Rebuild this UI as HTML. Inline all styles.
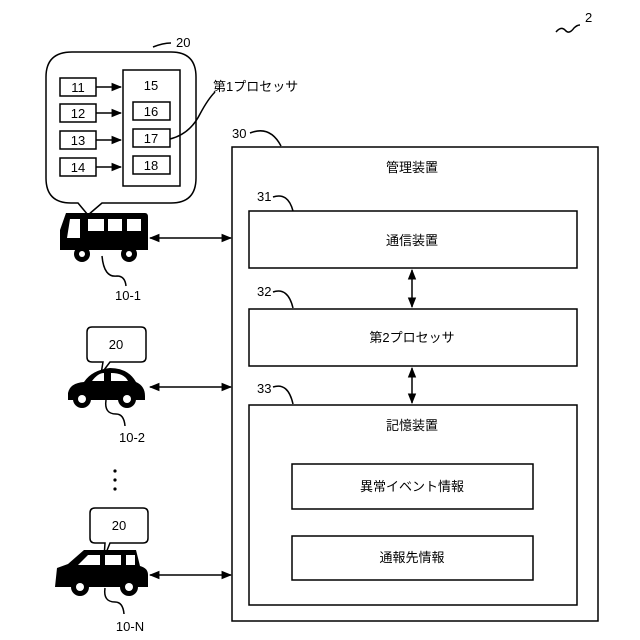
<!DOCTYPE html>
<html><head><meta charset="utf-8"><style>
body{margin:0;background:#fff}
svg{display:block}
text{font-family:"Liberation Sans","Noto Sans CJK JP",sans-serif;font-size:13px;fill:#000}
</style></head><body>
<svg width="640" height="640" viewBox="0 0 640 640">
<defs><marker id="a" viewBox="0 0 10 10" refX="9" refY="5" markerWidth="7" markerHeight="7" orient="auto-start-reverse"><path d="M0,1 L10,5 L0,9 z"/></marker></defs>
<g fill="none" stroke="#000" stroke-width="1.5">
<rect x="232" y="147" width="366" height="474"/>
<rect x="249" y="211" width="328" height="57"/>
<rect x="249" y="309" width="328" height="57"/>
<rect x="249" y="405" width="328" height="200"/>
<rect x="292" y="464" width="241" height="45"/>
<rect x="292" y="536" width="241" height="44"/>
<path d="M412,270 V307" marker-start="url(#a)" marker-end="url(#a)"/>
<path d="M412,368 V403" marker-start="url(#a)" marker-end="url(#a)"/>
<path d="M150,238 H231" marker-start="url(#a)" marker-end="url(#a)"/>
<path d="M150,387 H231" marker-start="url(#a)" marker-end="url(#a)"/>
<path d="M150,575 H231" marker-start="url(#a)" marker-end="url(#a)"/>
<path d="M250,133 q20,-8 31,13"/><path d="M273,197 q15,-5 20,14"/><path d="M273,292 q15,-5 20,16"/><path d="M273,387 q15,-5 20,17"/>
<path d="M153,47 q10,-4 18,-4"/><path d="M556,32 q5,-6 9,-2 q4,5 9,-2 q3,-3 6,-3"/>
<path d="M170,139 q20,-5 30,-25 q8,-15 15,-22"/>
<path d="M102,256 q2,22 15,20 q8,0 9,10"/>
<path d="M106,400 q-2,14 10,14 q8,0 9,12"/>
<path d="M105,588 q-2,14 10,14 q8,0 9,12"/>
<path d="M72,52 H171 Q196,52 196,77 V178 Q196,203 171,203 H102 L88,215 L78,203 H71 Q46,203 46,178 V77 Q46,52 72,52 Z"/>
<rect x="60" y="78" width="36" height="18"/><rect x="60" y="104" width="36" height="18"/><rect x="60" y="131" width="36" height="18"/><rect x="60" y="158" width="36" height="18"/>
<rect x="123" y="70" width="57" height="116"/>
<rect x="133" y="102" width="37" height="18"/><rect x="133" y="129" width="37" height="18"/><rect x="133" y="156" width="37" height="18"/>
<path d="M96,87 H121" marker-end="url(#a)"/>
<path d="M96,113 H121" marker-end="url(#a)"/>
<path d="M96,140 H121" marker-end="url(#a)"/>
<path d="M96,167 H121" marker-end="url(#a)"/>
<path d="M92,327 H141 Q146,327 146,332 V357 Q146,362 141,362 H110 L101,374 L103,362 H92 Q87,362 87,357 V332 Q87,327 92,327 Z"/>
<path d="M95,508 H143 Q148,508 148,513 V538 Q148,543 143,543 H110 L104,558 L105,543 H95 Q90,543 90,538 V513 Q90,508 95,508 Z"/>
</g>
<path d="M66,213 H145 Q148,213 148,217 V250 H60 V230 Z"/>
<g fill="#fff"><rect x="88" y="219" width="16" height="12"/><rect x="108" y="219" width="14" height="12"/><rect x="127" y="219" width="14" height="12"/><path d="M70,219 H80 V238 H67 Z"/></g>
<circle cx="82" cy="254" r="8"/><circle cx="129" cy="254" r="8"/>
<circle cx="82" cy="254" r="3" fill="#fff"/><circle cx="129" cy="254" r="3" fill="#fff"/>
<path d="M68,393 Q70,383 84,382 Q92,370 110,368 Q128,368 136,382 Q145,386 145,396 V400 H68 Z"/>
<g fill="#fff"><path d="M92,381 Q98,373 104,373 V381 Z"/><path d="M111,373 Q124,373 128,381 H111 Z"/></g>
<circle cx="82" cy="399" r="9"/><circle cx="127" cy="399" r="9"/>
<circle cx="82" cy="399" r="4" fill="#fff"/><circle cx="127" cy="399" r="4" fill="#fff"/>
<path d="M57,568 L68,564 L84,550 H136 L140,566 Q148,568 148,575 V587 H55 Z"/>
<g fill="#fff"><path d="M78,565 L88,555 H100 V565 Z"/><rect x="105" y="555" width="16" height="10"/><rect x="126" y="555" width="9" height="10"/></g>
<circle cx="80" cy="587" r="9"/><circle cx="129" cy="587" r="9"/>
<circle cx="80" cy="587" r="4" fill="#fff"/><circle cx="129" cy="587" r="4" fill="#fff"/>
<circle cx="115" cy="471" r="1.6"/><circle cx="115" cy="480" r="1.6"/><circle cx="115" cy="489" r="1.6"/>
<text x="585" y="22">2</text>
<text x="176" y="47">20</text>
<text x="78" y="92" text-anchor="middle">11</text><text x="78" y="118" text-anchor="middle">12</text><text x="78" y="145" text-anchor="middle">13</text><text x="78" y="172" text-anchor="middle">14</text>
<text x="151" y="90" text-anchor="middle">15</text><text x="151" y="116" text-anchor="middle">16</text><text x="151" y="143" text-anchor="middle">17</text><text x="151" y="170" text-anchor="middle">18</text>
<text x="213" y="91" font-size="12">第1プロセッサ</text>
<text x="232" y="138">30</text><text x="257" y="201">31</text><text x="257" y="296">32</text><text x="257" y="393">33</text>
<text x="412" y="172" text-anchor="middle">管理装置</text>
<text x="412" y="245" text-anchor="middle">通信装置</text>
<text x="412" y="342" text-anchor="middle">第2プロセッサ</text>
<text x="412" y="430" text-anchor="middle">記憶装置</text>
<text x="412" y="491" text-anchor="middle">異常イベント情報</text>
<text x="412" y="562" text-anchor="middle">通報先情報</text>
<text x="116" y="349" text-anchor="middle">20</text><text x="119" y="530" text-anchor="middle">20</text>
<text x="128" y="300" text-anchor="middle">10-1</text>
<text x="132" y="442" text-anchor="middle">10-2</text>
<text x="130" y="631" text-anchor="middle">10-N</text>
</svg>
</body></html>
